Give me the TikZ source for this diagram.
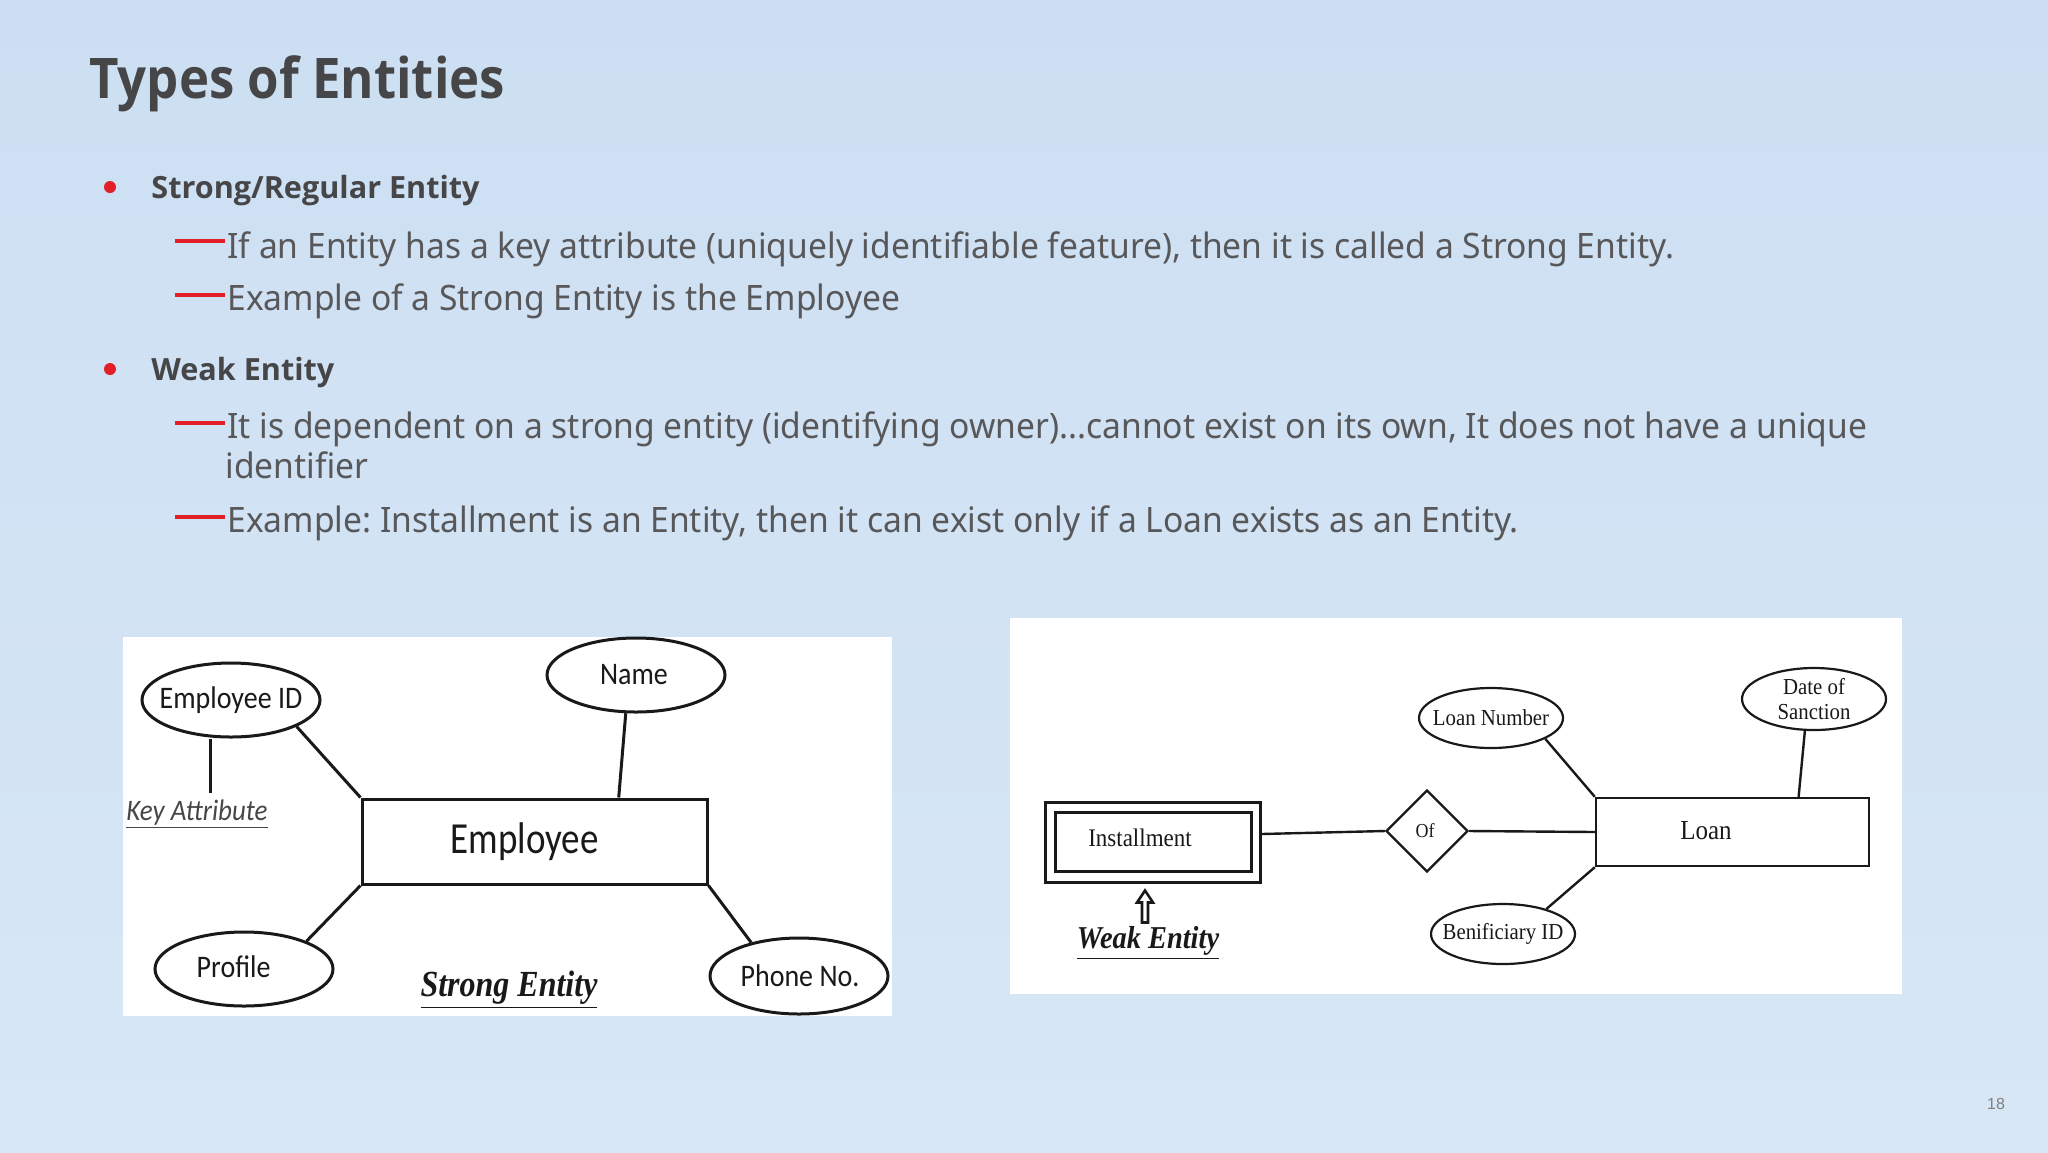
\documentclass[tikz,border=0pt]{standalone}
\usepackage{fontspec}
\setmainfont{Noto Sans}
\newfontfamily\bodyfont[FakeStretch=0.96]{Noto Sans}
\newfontfamily\headfont{Open Sans}
\newfontfamily\titlefont[FakeStretch=0.91]{Open Sans}
\newfontfamily\calfont{Carlito}
\newfontfamily\timesfont{Liberation Serif}
\newfontfamily\numfont{Liberation Sans}
\usetikzlibrary{shapes.geometric,calc}
\frenchspacing
\definecolor{bgtop}{RGB}{204,223,242}
\definecolor{bgbottom}{RGB}{216,231,246}
\definecolor{bulletred}{RGB}{226,30,38}
\definecolor{bodygray}{RGB}{88,88,90}
\definecolor{titlegray}{RGB}{70,70,72}
\definecolor{inkblack}{RGB}{25,25,25}
% text centred on a node, shifted by dx (right) and dy (up), taking no room
\newcommand\ctext[3]{\makebox[0pt][c]{\kern#1\raisebox{#2}{#3}\kern-#1}}
\newcommand\tall[2]{\scalebox{1}[#1]{#2}}
\tikzset{
  titlestyle/.style={inner sep=0pt, text=titlegray, font=\titlefont\bfseries\fontsize{28pt}{32pt}\selectfont},
  headtxt/.style={inner sep=0pt, text=titlegray, font=\headfont\bfseries\fontsize{15.3pt}{18pt}\selectfont},
  bodytxt/.style={inner sep=0pt, text=bodygray, font=\bodyfont\fontsize{17.5pt}{20pt}\selectfont},
  reddash/.style={draw=bulletred, line width=1.6pt},
  lattr/.style={ellipse, draw=inkblack, line width=1.5pt, fill=white, minimum width=89pt, minimum height=37pt, inner sep=0pt, text=inkblack, font=\calfont\fontsize{14pt}{16pt}\selectfont},
  lentity/.style={rectangle, draw=inkblack, line width=1.5pt, fill=white, minimum width=172.5pt, minimum height=42.5pt, inner sep=0pt, text=inkblack, font=\calfont\fontsize{18.5pt}{20pt}\selectfont},
  lline/.style={draw=inkblack, line width=1.5pt},
  rattr/.style={ellipse, draw=inkblack, line width=1.1pt, fill=white, minimum width=72pt, minimum height=30pt, inner sep=0pt, align=center, text=inkblack, font=\timesfont\fontsize{10.4pt}{11.75pt}\selectfont},
  rentity/.style={rectangle, draw=inkblack, line width=1.2pt, fill=white, inner sep=0pt},
  rtext/.style={inner sep=0pt, text=inkblack, font=\timesfont\fontsize{11.5pt}{13pt}\selectfont},
  rline/.style={draw=inkblack, line width=1.2pt},
  caption/.style={inner sep=0pt, text=inkblack, font=\timesfont\bfseries\itshape\fontsize{16pt}{18pt}\selectfont},
}
\begin{document}
\begin{tikzpicture}[x=0.5pt,y=-0.5pt]
\useasboundingbox (0,0) rectangle (2048,1152);
\shade[top color=bgtop, bottom color=bgbottom] (0,0) rectangle (2048,1152);

% ---- title and bullets ----
\node[titlestyle, anchor=base west] (title) at (89,98) {Types of Entities};

\fill[bulletred] (110,187) circle[radius=3pt];
\node[headtxt, anchor=base west] (h1) at (151,198) {Strong/Regular Entity};
\draw[reddash] (175,241) -- (225,241);
\node[bodytxt, anchor=base west] (s1) at (227,258) {If an Entity has a key attribute (uniquely identifiable feature), then it is called a Strong Entity.};
\draw[reddash] (175,295) -- (225,295);
\node[bodytxt, anchor=base west] (s2) at (227,310) {Example of a Strong Entity is the Employee};

\fill[bulletred] (110,369) circle[radius=3pt];
\node[headtxt, anchor=base west] (h2) at (151,380) {Weak Entity};
\draw[reddash] (175,423) -- (225,423);
\node[bodytxt, anchor=base west] (w1) at (227,438) {It is dependent on a strong entity (identifying owner)...cannot exist on its own, It does not have a unique};
\node[bodytxt, anchor=base west] (w1b) at (225,478) {identifier};
\draw[reddash] (175,517) -- (225,517);
\node[bodytxt, anchor=base west] (w2) at (227,532) {Example: Installment is an Entity, then it can exist only if a Loan exists as an Entity.};

% ---- left panel: strong entity ----
\fill[white] (123,637) rectangle (892,1016);
\node[lentity] (emp) at (534.5,841.5) {\ctext{-5pt}{-1pt}{\tall{1.2}{Employee}}};
\node[lattr] (eid) at (231,700) {\ctext{0pt}{0pt}{\tall{1.12}{Employee ID}}};
\node[lattr] (name) at (636,675) {\ctext{-1pt}{0.5pt}{\tall{1.12}{Name}}};
\node[lattr] (prof) at (244,969) {\ctext{-5.2pt}{2.6pt}{\tall{1.12}{Profile}}};
\node[lattr, minimum height=38pt] (phone) at (799,976) {\ctext{0.5pt}{-3.2pt}{\tall{1.12}{Phone No.}}};
\node[inner sep=0pt, text=inkblack!80, anchor=base, font=\calfont\itshape\fontsize{13.5pt}{15pt}\selectfont] (key) at (197,820) {\tall{1.1}{\underline{Key Attribute}}};
\coordinate (kx) at (210,793);
\draw[lline] (eid.-22) -- (emp.north west);
\draw[lline] (name.-105) -- ($(emp.north west)!0.742!(emp.north east)$);
\draw[lline] (prof.24) -- (emp.south west);
\draw[lline] (phone.145) -- (emp.south east);
\draw[lline] (eid.south -| kx) -- (kx);
\node[caption, anchor=base] (strongcap) at (509,996) {\tall{1.15}{\underline{Strong Entity}}};

% ---- right panel: weak entity ----
\fill[white] (1010,618) rectangle (1902,994);
\node[rentity, line width=1.5pt, minimum width=107.5pt, minimum height=40pt] (inst) at (1152.5,842) {};
\node[rentity, line width=1.5pt, minimum width=98pt, minimum height=29.5pt] (instin) at (1153,841.5) {};
\node[rtext] (insttxt) at (1140,838) {\tall{1.1}{Installment}};
\node[diamond, draw=inkblack, line width=1.2pt, fill=white, minimum width=41pt, minimum height=41pt, inner sep=0pt, text=inkblack, font=\timesfont\fontsize{9pt}{10pt}\selectfont] (of) at (1427,831) {\ctext{-1pt}{0pt}{\tall{1.1}{Of}}};
\node[rentity, minimum width=136.5pt, minimum height=34pt] (loan) at (1732.5,832) {};
\node[rtext, font=\timesfont\fontsize{12.5pt}{14pt}\selectfont] (loantxt) at (1706,831) {\tall{1.1}{Loan}};
\node[rattr] (lnum) at (1491,718) {\ctext{0pt}{0pt}{\tall{1.1}{Loan Number}}};
\node[rattr, minimum height=31pt] (date) at (1814,699) {\ctext{0pt}{0pt}{\tall{1.1}{\shortstack{Date of\\[1.5pt]Sanction}}}};
\node[rattr] (ben) at (1503,934) {\ctext{0pt}{0pt}{\tall{1.1}{Benificiary ID}}};
\draw[rline] ($(inst.east)+(0,-8)$) -- (of.west);
\draw[rline] (of.east) -- (loan.west);
\draw[rline] (lnum.-21) -- (loan.north west);
\draw[rline] (date.-106) -- ($(loan.north west)!0.74!(loan.north east)$);
\draw[rline] (ben.30) -- (loan.south west);
\draw[draw=inkblack, line width=1.3pt, fill=white]
  ($(inst.south)+(-7.5,7)$) -- ++(8,12) -- ++(-5,0) -- ++(0,20) -- ++(-6,0) -- ++(0,-20) -- ++(-5,0) -- cycle;
\node[caption, anchor=base, font=\timesfont\bfseries\itshape\fontsize{14.2pt}{16pt}\selectfont] (weakcap) at (1148,948) {\tall{1.12}{\underline{Weak Entity}}};

% ---- page number ----
\node[inner sep=0pt, text=black!50, font=\numfont\fontsize{8pt}{9pt}\selectfont] (pnum) at (1996,1104) {18};
\end{tikzpicture}
\end{document}
